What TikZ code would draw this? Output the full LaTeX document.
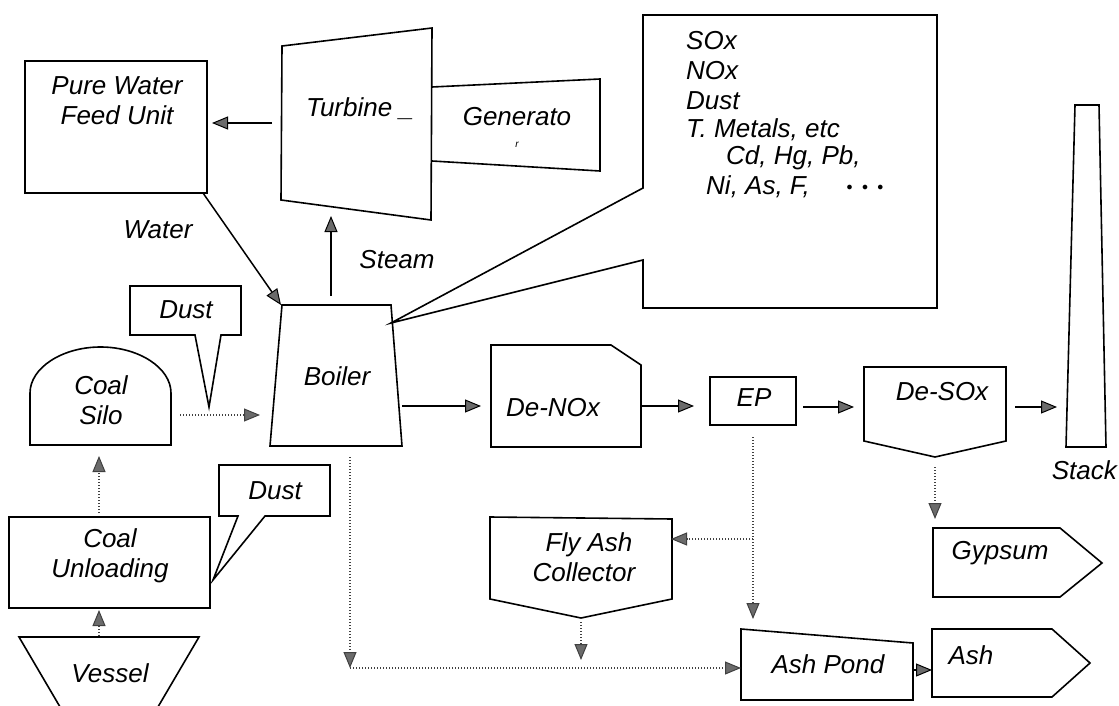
\documentclass[tikz,border=0pt]{standalone}
\usepackage{fontspec}
\setmainfont{Liberation Sans}
\usetikzlibrary{arrows.meta}
\tikzset{
  shp/.style={draw=black, line width=1.6pt, line join=miter},
  lbl/.style={inner sep=0pt, font=\fontsize{26}{30}\selectfont\itshape, align=center},
  solidarrow/.style={draw=black, line width=1.5pt, -{Triangle[length=16pt,width=13pt,fill=black!58,line width=1pt]}},
  dotarrow/.style={draw=black!75, line width=1.2pt, dash pattern=on 1.3pt off 1.7pt, -{Triangle[length=16pt,width=13pt,fill=black!58,line width=1pt]}},
}
\begin{document}
\begin{tikzpicture}[x=1pt,y=-1pt]
\useasboundingbox (0,0) rectangle (1119,706);
\begin{scope}
\clip (0,0) rectangle (1119,706);
% Pure Water Feed Unit
\draw[shp] (25,61) rectangle (207,193);
\node[lbl] (pw) at (117,101) {Pure Water\\Feed Unit};
% Turbine
\draw[shp] (282,46) -- (432,28) -- (431,220) -- (281,200) -- cycle;
\node[lbl] (tb) at (360,109) {Turbine \_};
% Generator
\draw[shp] (432,87) -- (600,79) -- (600,171) -- (432,161);
\node[lbl] (gen) at (517,117) {Generato};
\node[inner sep=0pt, font=\fontsize{10}{10}\selectfont\itshape] (genr) at (517,145) {r};
% Emissions callout
\draw[shp] (643,15) -- (937,15) -- (937,308) -- (643,308) -- (643,260) -- (391,323) -- (643,188) -- cycle;
\node[lbl, anchor=west] (e1) at (686,41) {SOx};
\node[lbl, anchor=west] (e2) at (686,71) {NOx};
\node[lbl, anchor=west] (e3) at (686,101) {Dust};
\node[lbl, anchor=west] (e4) at (686,130) {T. Metals, etc};
\node[lbl, anchor=west] (e5) at (726,158) {Cd, Hg, Pb,};
\node[lbl, anchor=west] (e6) at (706,187) {Ni, As, F,};
\node[inner sep=0pt, font=\fontsize{12}{12}\selectfont] (e7) at (865,188) {$\bullet\;\;\bullet\;\;\bullet$};
% Stack
\draw[shp] (1075,105) -- (1099,105) -- (1106,447) -- (1066,447) -- cycle;
\node[lbl, anchor=east] (stk) at (1117,470) {Stack};
% Boiler
\draw[shp] (282,305) -- (391,305) -- (402,446) -- (270,446) -- cycle;
\node[lbl] (boil) at (337,376) {Boiler};
\node[lbl] (water) at (158,230) {Water};
\node[lbl] (steam) at (397,260) {Steam};
% Dust callouts
\draw[shp] (130,286) -- (241,286) -- (241,335) -- (221,335) -- (209,407) -- (195,335) -- (130,335) -- cycle;
\node[lbl] (d1) at (186,310) {Dust};
\draw[shp] (219,465) -- (330,465) -- (330,516) -- (265,516) -- (213,580) -- (238,516) -- (219,516) -- cycle;
\node[lbl] (d2) at (275,491) {Dust};
% Coal Silo
\draw[shp] (30,393) .. controls (30,368) and (62,347) .. (100.5,347) .. controls (139,347) and (171,368) .. (171,393) -- (171,445) -- (30,445) -- cycle;
\node[lbl] (silo) at (101,400) {Coal\\Silo};
% Coal Unloading
\draw[shp] (9,517) rectangle (210,608);
\node[lbl] (unl) at (110,556) {Coal\\Unloading};
% Vessel
\draw[shp] (63,712) -- (19,637) -- (199,637) -- (155,712);
\node[lbl] (ves) at (110,673) {Vessel};
% De-NOx
\draw[shp] (491,345) -- (611,345) -- (641,365) -- (641,447) -- (491,447) -- cycle;
\node[lbl] (dnox) at (553,408) {De-NOx};
% EP
\draw[shp] (710,377) rectangle (796,425);
\node[lbl] (ep) at (754,398) {EP};
% De-SOx
\draw[shp] (864,367) -- (1006,367) -- (1006,441) -- (935,457) -- (864,441) -- cycle;
\node[lbl] (dsox) at (942,392) {De-SOx};
% Gypsum
\draw[shp] (933,528) -- (1060,528) -- (1102,563) -- (1060,597) -- (933,597) -- cycle;
\node[lbl] (gyp) at (1000,553) {Gypsum};
% Fly Ash Collector
\draw[shp] (490,517) -- (672,519) -- (672,599) -- (581,618) -- (490,599) -- cycle;
\node[lbl] (fly) at (584,557) {\hspace*{10pt}Fly Ash\\Collector};
% Ash Pond
\draw[shp] (741,629) -- (913,643) -- (913,700) -- (741,700) -- cycle;
\node[lbl] (pond) at (828,664) {Ash Pond};
% Ash
\draw[shp] (932,629) -- (1052,629) -- (1090,663) -- (1052,697) -- (932,697) -- cycle;
\node[lbl] (ash) at (971,655) {Ash};
\end{scope}
% connector coordinates
\coordinate (tbW) at (272,123); \coordinate (pwE) at (212,123);
\coordinate (pwS) at (203,193); \coordinate (boNW) at (281,305);
\coordinate (boN) at (331,296); \coordinate (tbS) at (331,216);
\coordinate (boE) at (402,406); \coordinate (dnW) at (481,406);
\coordinate (dnE) at (641,406); \coordinate (epW) at (694,406);
\coordinate (epE) at (803,407); \coordinate (dsW) at (854,407);
\coordinate (dsE) at (1015,407); \coordinate (stW) at (1057,407);
\coordinate (siE) at (180,415); \coordinate (boW) at (260,415);
\coordinate (unN) at (99,513); \coordinate (siS) at (99,456);
\coordinate (veN) at (99,636); \coordinate (unS) at (99,610);
\coordinate (boS) at (350,457); \coordinate (cornerA) at (350,668);
\coordinate (cornerB) at (350,668); \coordinate (apW) at (741,668);
\coordinate (epS) at (753,437); \coordinate (apN) at (753,619);
\coordinate (epB) at (753,539); \coordinate (faE) at (671,539);
\coordinate (faS) at (581,622); \coordinate (faT) at (581,660);
\coordinate (dsS) at (935,467); \coordinate (gyN) at (935,519);
\coordinate (apE) at (913,670); \coordinate (ashW) at (932,670);
% solid arrows
\draw[solidarrow] (tbW) -- (pwE);
\draw[solidarrow] (pwS) -- (boNW);
\draw[solidarrow] (boN) -- (tbS);
\draw[solidarrow] (boE) -- (dnW);
\draw[solidarrow] (dnE) -- (epW);
\draw[solidarrow] (epE) -- (dsW);
\draw[solidarrow] (dsE) -- (stW);
\draw[solidarrow] (apE) -- (ashW);
% dotted arrows
\draw[dotarrow] (siE) -- (boW);
\draw[dotarrow] (unN) -- (siS);
\draw[dotarrow] (veN) -- (unS);
\draw[dotarrow] (boS) -- (cornerA);
\draw[dotarrow] (cornerB) -- (apW);
\draw[dotarrow] (epS) -- (apN);
\draw[dotarrow] (epB) -- (faE);
\draw[dotarrow] (faS) -- (faT);
\draw[dotarrow] (dsS) -- (gyN);
\end{tikzpicture}
\end{document}
